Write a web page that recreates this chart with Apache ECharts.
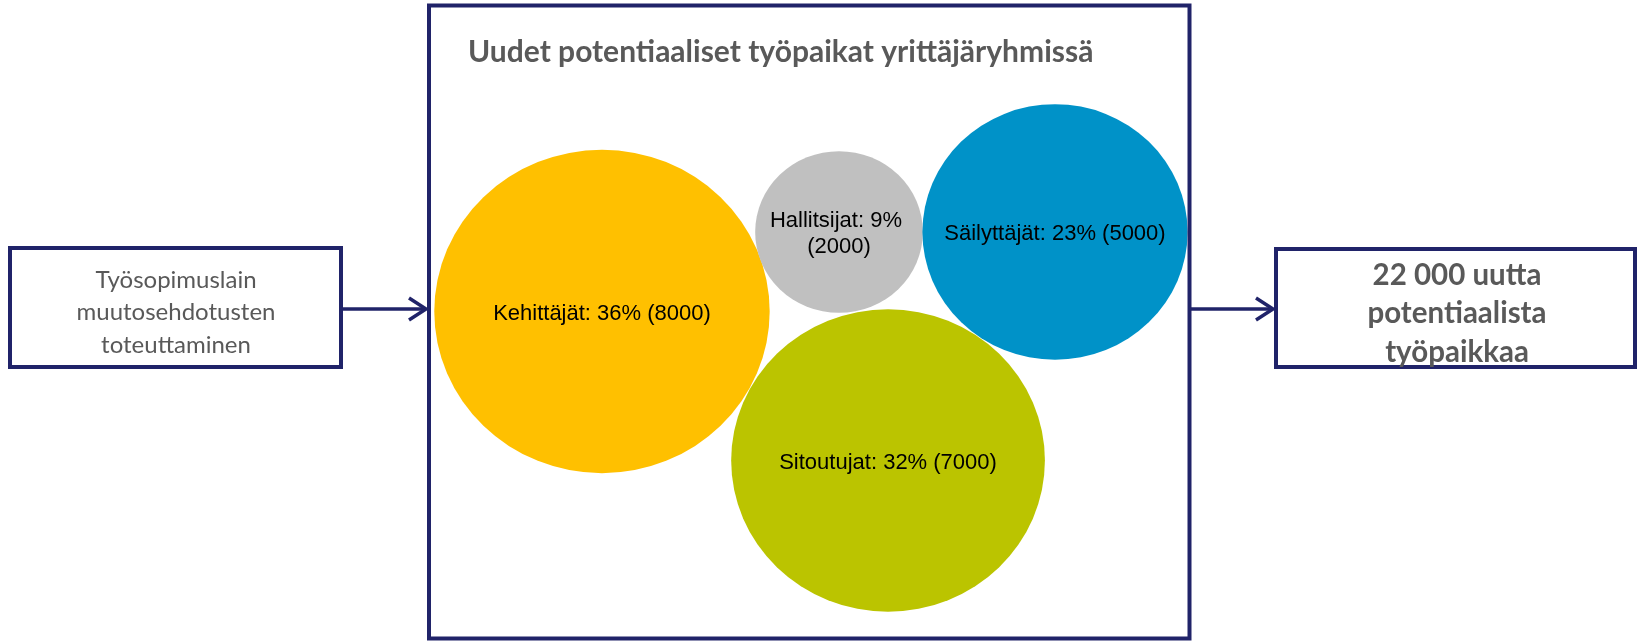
<!DOCTYPE html>
<html>
<head>
<meta charset="utf-8">
<script src="https://cdn.jsdelivr.net/npm/echarts@6/dist/echarts.min.js"></script>
<style>
html,body{margin:0;padding:0;background:#fff;}
#chart{width:1637px;height:642px;}
</style>
</head>
<body>
<div id="chart"></div>
<script>
// Data
const groups = ['Kehittäjät', 'Hallitsijat', 'Säilyttäjät', 'Sitoutujat'];
const jobs = [8000, 2000, 5000, 7000];
const colors = ['#FFC000', '#C0C0C0', '#0092C8', '#BBC400'];
// bubble layout positions (0-100 units inside the frame)
const posX = [22.73, 53.88, 82.26, 60.32];
const posY = [51.66, 64.20, 64.20, 28.15];

const titleText = 'Uudet potentiaaliset työpaikat yrittäjäryhmissä';
const leftBoxText = 'Työsopimuslain\nmuutosehdotusten\ntoteuttaminen';
const totalJobs = jobs.reduce((a, b) => a + b, 0);
const rightBoxText = (totalJobs / 1000) + ' 000 uutta\npotentiaalista\ntyöpaikkaa';

const navy = '#202369';
const grayText = '#595959';

const data = groups.map((g, i) => {
  const item = {
    name: g,
    value: [posX[i], posY[i], jobs[i]],
    itemStyle: { color: colors[i], opacity: 1 }
  };
  if (jobs[i] < 3000) {
    item.label = { width: 150, overflow: 'break' };
  }
  return item;
});

const chart = echarts.init(document.getElementById('chart'), null, { renderer: 'canvas' });
chart.setOption({
  animation: false,
  backgroundColor: '#ffffff',
  title: {
    text: titleText,
    left: 463,
    top: 32,
    textStyle: { fontFamily: 'Lato', fontWeight: 'bold', fontSize: 30, color: grayText }
  },
  grid: { left: 429, right: 447, top: 5, bottom: 3, containLabel: false },
  xAxis: { type: 'value', min: 0, max: 100, show: false },
  yAxis: { type: 'value', min: 0, max: 100, show: false },
  series: [{
    type: 'scatter',
    data: data,
    symbol: 'circle',
    symbolSize: function (val) {
      const r = Math.sqrt(val[2]);
      return [3.75 * r, 3.615 * r];
    },
    label: {
      show: true,
      position: 'inside',
      offset: [0, 2],
      formatter: function (p) {
        const pct = Math.round(p.value[2] / totalJobs * 100);
        return p.name + ': ' + pct + '% (' + p.value[2] + ')';
      },
      fontFamily: 'Liberation Sans',
      fontSize: 22,
      lineHeight: 26,
      color: '#000',
      align: 'center'
    },
    emphasis: { disabled: true }
  }],
  graphic: [
    {
      type: 'rect', z: 100, silent: true,
      shape: { x: 429, y: 5.5, width: 760.5, height: 633 },
      style: { fill: 'none', stroke: navy, lineWidth: 4 }
    },
    {
      type: 'rect', z: 100, silent: true,
      shape: { x: 10, y: 248, width: 331, height: 119 },
      style: { fill: '#fff', stroke: navy, lineWidth: 4 }
    },
    {
      type: 'text', z: 101, silent: true,
      style: {
        x: 176, y: 312.5, text: leftBoxText,
        align: 'center', verticalAlign: 'middle',
        fontFamily: 'Lato', fontSize: 24, lineHeight: 32.5, fill: grayText
      }
    },
    {
      type: 'rect', z: 100, silent: true,
      shape: { x: 1276, y: 249, width: 359, height: 118 },
      style: { fill: '#fff', stroke: navy, lineWidth: 4 }
    },
    {
      type: 'text', z: 101, silent: true,
      style: {
        x: 1457, y: 313.5, text: rightBoxText,
        align: 'center', verticalAlign: 'middle',
        fontFamily: 'Lato', fontWeight: 'bold', fontSize: 29.5, lineHeight: 38.5, fill: grayText
      }
    },
    {
      type: 'line', z: 100, silent: true,
      shape: { x1: 343, y1: 309, x2: 426, y2: 309 },
      style: { stroke: navy, lineWidth: 3.5 }
    },
    {
      type: 'polyline', z: 100, silent: true,
      shape: { points: [[409, 298], [426, 309], [409, 320]] },
      style: { stroke: navy, lineWidth: 3.5, fill: 'none', lineJoin: 'miter' }
    },
    {
      type: 'line', z: 100, silent: true,
      shape: { x1: 1191, y1: 309, x2: 1273, y2: 309 },
      style: { stroke: navy, lineWidth: 3.5 }
    },
    {
      type: 'polyline', z: 100, silent: true,
      shape: { points: [[1256, 298], [1273, 309], [1256, 320]] },
      style: { stroke: navy, lineWidth: 3.5, fill: 'none', lineJoin: 'miter' }
    }
  ]
});
</script>
</body>
</html>
